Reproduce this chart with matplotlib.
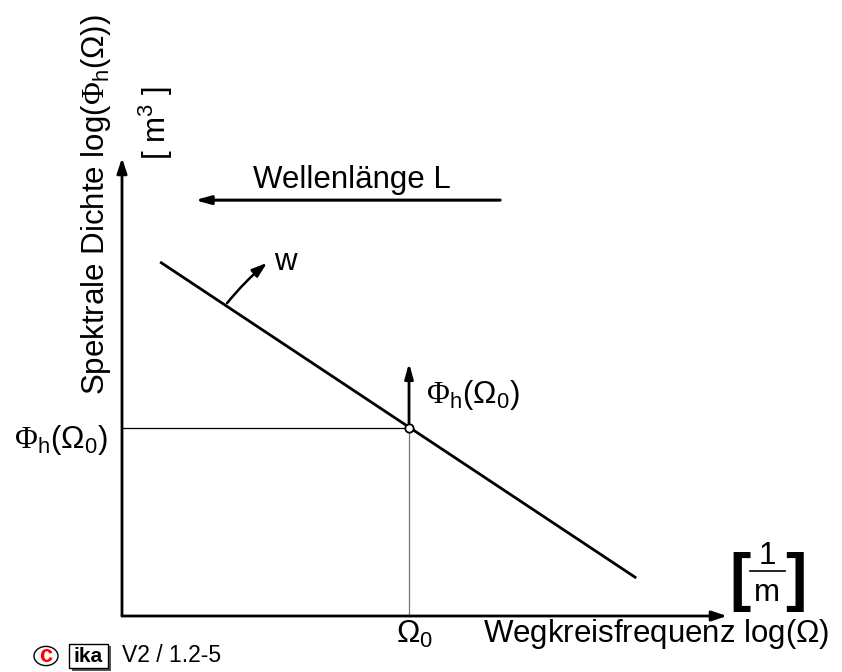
import matplotlib
matplotlib.use("Agg")
import matplotlib.pyplot as plt
from matplotlib.patches import Rectangle, Circle

plt.rcParams['font.family'] = ['Liberation Sans', 'DejaVu Sans']
plt.rcParams['mathtext.fontset'] = 'custom'
plt.rcParams['mathtext.rm'] = 'Liberation Serif'
plt.rcParams['mathtext.sf'] = 'Liberation Sans'
plt.rcParams['mathtext.it'] = 'Liberation Sans'

# ---- data (normalised log axes: 0..1) ----
line_x = [0.063, 0.850]          # log(Omega) of the spectral density line ends
line_y = [0.773, 0.083]          # log(Phi) at those ends
omega0_x = [0.4744]              # log(Omega_0)
phi0_y = [0.4105]                # log(Phi_h(Omega_0))
w_arrow_x = [0.1736, 0.2397]
w_arrow_y = [0.683, 0.771]
wave_arrow_x = [0.625, 0.1207]
wave_arrow_y = [0.908, 0.908]
phi_arrow_top = [0.5524]

W, H = 842, 672
fig = plt.figure(figsize=(W/100, H/100), dpi=100)

def fx(x):
    return x / W
def fy(y):
    return 1 - y / H

ax = fig.add_axes([fx(122), fy(616), 605/W, 458/H])
ax.set_xlim(0, 1)
ax.set_ylim(0, 1)
ax.axis('off')

# axes arrows
ax.annotate('', xy=(0, 1.0), xytext=(0, 0), annotation_clip=False,
            arrowprops=dict(arrowstyle='-|>,head_length=0.9,head_width=0.3', lw=2, color='black',
                            shrinkA=0, shrinkB=0))
ax.annotate('', xy=(1.0, 0), xytext=(0, 0), annotation_clip=False,
            arrowprops=dict(arrowstyle='-|>,head_length=0.9,head_width=0.3', lw=2, color='black',
                            shrinkA=0, shrinkB=0))

# main line
ax.plot(line_x, line_y, color='black', lw=2.0, solid_capstyle='butt', clip_on=False)

# reference lines
ax.plot([0, omega0_x[0]], [phi0_y[0], phi0_y[0]], color='black', lw=0.9, clip_on=False)
ax.plot([omega0_x[0], omega0_x[0]], [0, phi0_y[0]], color='#777777', lw=0.9, clip_on=False)

# up arrow at Omega_0
ax.annotate('', xy=(omega0_x[0], phi_arrow_top[0]), xytext=(omega0_x[0], phi0_y[0]),
            annotation_clip=False,
            arrowprops=dict(arrowstyle='-|>,head_length=0.9,head_width=0.25', lw=2, color='black',
                            shrinkA=0, shrinkB=0))
ax.plot(omega0_x, phi0_y, 'o', ms=6, mfc='white', mec='black', mew=1.3, clip_on=False, zorder=5)

# w arrow
ax.annotate('', xy=(w_arrow_x[1], w_arrow_y[1]), xytext=(w_arrow_x[0], w_arrow_y[0]),
            annotation_clip=False,
            arrowprops=dict(arrowstyle='-|>,head_length=0.9,head_width=0.3', lw=1.8, color='black',
                            shrinkA=0, shrinkB=0, connectionstyle='arc3,rad=-0.05'))

# Wellenlaenge arrow
ax.annotate('', xy=(wave_arrow_x[1], wave_arrow_y[1]), xytext=(wave_arrow_x[0], wave_arrow_y[0]),
            annotation_clip=False,
            arrowprops=dict(arrowstyle='-|>,head_length=0.9,head_width=0.25', lw=2.2, color='black',
                            shrinkA=0, shrinkB=0))

FS = 22.5
PHI = r'$\Phi_{\mathsf{h}}$'
OM = r'$\mathsf{\Omega}$'
OM0 = r'$\mathsf{\Omega}_{\mathsf{0}}$'
# texts
fig.text(fx(352), fy(180), 'Wellenlänge L', fontsize=FS, ha='center', va='center')
fig.text(fx(285), fy(262), 'w', fontsize=FS, ha='center', va='center')
fig.text(fx(96), fy(205), 'Spektrale Dichte log(' + PHI + '(' + OM + '))', fontsize=FS,
         rotation=90, ha='center', va='center')
fig.text(fx(156), fy(123), r'[ m$^{\mathsf{3}}$ ]', fontsize=FS, rotation=90, ha='center', va='center')
fig.text(fx(483), fy(634), 'Wegkreisfrequenz log(' + OM + ')', fontsize=FS, ha='left', va='center')
fig.text(fx(415), fy(634), OM0, fontsize=FS, ha='center', va='center')
fig.text(fx(473), fy(395), PHI + '(' + OM0 + ')', fontsize=FS, ha='center', va='center')
fig.text(fx(61), fy(440), PHI + '(' + OM0 + ')', fontsize=FS, ha='center', va='center')

# [1/m]
fig.text(fx(740), fy(582), '[', fontsize=46, fontweight='bold', ha='center', va='center')
fig.text(fx(796), fy(582), ']', fontsize=46, fontweight='bold', ha='center', va='center')
fig.text(fx(767), fy(556), '1', fontsize=FS, ha='center', va='center')
fig.text(fx(767), fy(593), 'm', fontsize=FS, ha='center', va='center')
fig.add_artist(plt.Line2D([fx(750), fx(785)], [fy(571), fy(571)], color='black', lw=1.2,
                          transform=fig.transFigure))

# footer
fig.add_artist(Circle((fx(46), fy(656)), 12/W, transform=fig.transFigure, fill=False,
                      ec='black', lw=1.0))
fig.text(fx(46), fy(656), 'c', fontsize=17, fontweight='bold', color='red', ha='center', va='center')
fig.add_artist(Rectangle((fx(72), fy(671)), 39/W, 25/H, transform=fig.transFigure,
                         fc='#555555', ec='none'))
fig.add_artist(Rectangle((fx(69), fy(668)), 39/W, 24/H, transform=fig.transFigure,
                         fc='white', ec='black', lw=1.0))
fig.text(fx(88.5), fy(656), 'ika', fontsize=15, fontweight='bold', ha='center', va='center')
fig.text(fx(122), fy(656), 'V2 / 1.2-5', fontsize=16.5, ha='left', va='center')

fig.savefig('out.png', dpi=100)
